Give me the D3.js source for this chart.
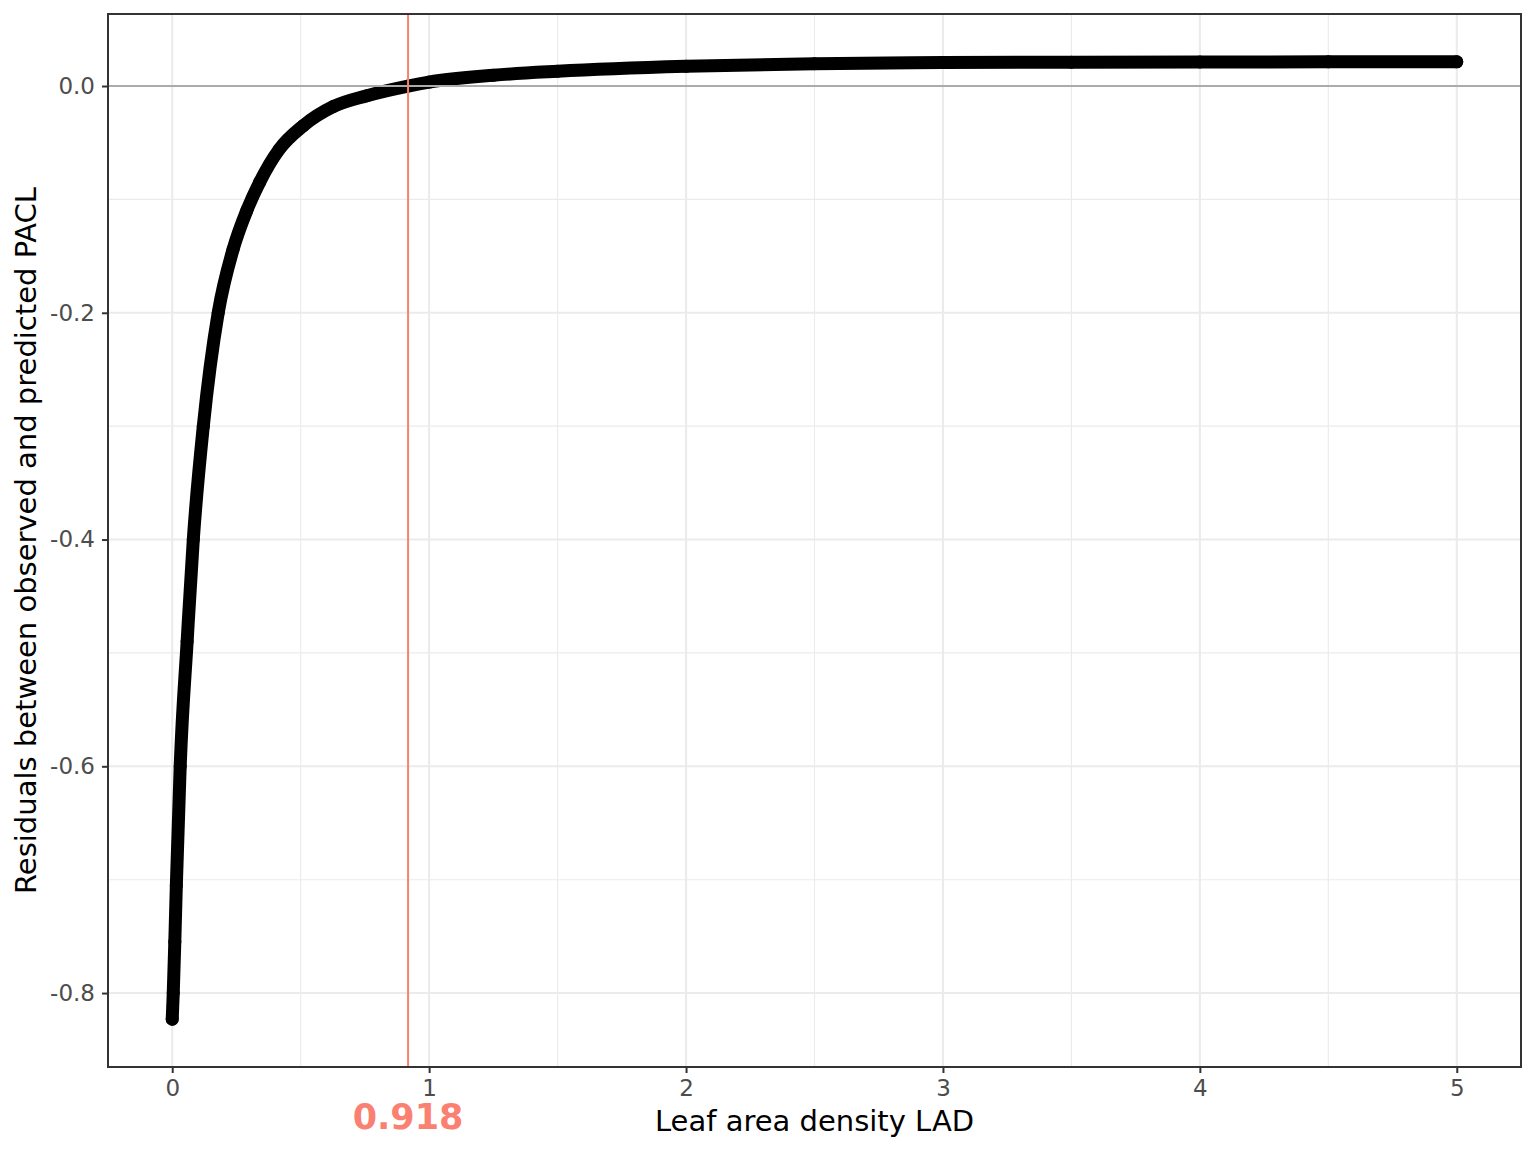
<!DOCTYPE html>
<html>
<head>
<meta charset="utf-8">
<script src="https://cdn.jsdelivr.net/npm/d3@7"></script>
<style>
  body { margin: 0; background: #fff; }
  text { font-family: "DejaVu Sans", sans-serif; }
</style>
</head>
<body>
<div class="wrapper"></div>
<script>
// values
var lad = [0.000, 0.004, 0.010, 0.016, 0.031, 0.058, 0.082, 0.121, 0.179, 0.237,
  0.290, 0.340, 0.416, 0.510, 0.628, 0.758, 0.918, 1.000, 1.250,
  1.500, 2.000, 2.500, 3.000, 3.500, 4.000, 4.500, 5.000];
var residual = [-0.823, -0.800, -0.755, -0.705, -0.600, -0.490, -0.400, -0.300, -0.200, -0.144,
  -0.110, -0.085, -0.056, -0.035, -0.018, -0.0085, 0.000, 0.0035, 0.0095,
  0.013, 0.0174, 0.0197, 0.0207, 0.0210, 0.0212, 0.0213, 0.0213];
var xTicks = [0, 1, 2, 3, 4, 5];
var yTicks = [0, -0.2, -0.4, -0.6, -0.8];
var cutoff = 0.918;

var data = lad.map(function(d, i) { return {x: d, y: residual[i]}; });

var width = 1536, height = 1152;
var margin = {top: 14, right: 15, bottom: 85, left: 108};
var svg = d3.select(".wrapper").append("svg")
  .attr("width", width)
  .attr("height", height);

var pw = width - margin.left - margin.right,
  ph = height - margin.top - margin.bottom;

var xExt = d3.extent(lad), yExt = d3.extent(residual);
var xPad = (xExt[1] - xExt[0]) * 0.05, yPad = (yExt[1] - yExt[0]) * 0.05;
var x = d3.scaleLinear().domain([xExt[0] - xPad, xExt[1] + xPad]).range([0, pw]);
var y = d3.scaleLinear().domain([yExt[0] - yPad, yExt[1] + yPad]).range([ph, 0]);

var g = svg.append("g").attr("transform", "translate(" + margin.left + "," + margin.top + ")");

// minor grid
var xMinor = [0.5, 1.5, 2.5, 3.5, 4.5];
var yMinor = [-0.1, -0.3, -0.5, -0.7];
g.selectAll(".xminor").data(xMinor).enter().append("line")
  .attr("x1", function(d) { return x(d); }).attr("x2", function(d) { return x(d); })
  .attr("y1", 0).attr("y2", ph)
  .attr("stroke", "#EBEBEB").attr("stroke-width", 1.1);
g.selectAll(".yminor").data(yMinor).enter().append("line")
  .attr("y1", function(d) { return y(d); }).attr("y2", function(d) { return y(d); })
  .attr("x1", 0).attr("x2", pw)
  .attr("stroke", "#EBEBEB").attr("stroke-width", 1.1);
// major grid
g.selectAll(".xmajor").data(xTicks).enter().append("line")
  .attr("x1", function(d) { return x(d); }).attr("x2", function(d) { return x(d); })
  .attr("y1", 0).attr("y2", ph)
  .attr("stroke", "#EBEBEB").attr("stroke-width", 2.1);
g.selectAll(".ymajor").data(yTicks).enter().append("line")
  .attr("y1", function(d) { return y(d); }).attr("y2", function(d) { return y(d); })
  .attr("x1", 0).attr("x2", pw)
  .attr("stroke", "#EBEBEB").attr("stroke-width", 2.1);

// points (dense series drawn as thick path through the read values)
var line = d3.line()
  .x(function(d) { return x(d.x); })
  .y(function(d) { return y(d.y); })
  .curve(d3.curveMonotoneX);
g.append("path")
  .datum(data)
  .attr("d", line)
  .attr("fill", "none")
  .attr("stroke", "#000")
  .attr("stroke-width", 13)
  .attr("stroke-linecap", "round")
  .attr("stroke-linejoin", "round");
g.selectAll(".pt").data(data).enter().append("circle")
  .attr("cx", function(d) { return x(d.x); })
  .attr("cy", function(d) { return y(d.y); })
  .attr("r", 6.5)
  .attr("fill", "#000");

// reference lines
g.append("line")
  .attr("x1", 0).attr("x2", pw)
  .attr("y1", y(0)).attr("y2", y(0))
  .attr("stroke", "#ABABAB").attr("stroke-width", 2);
g.append("line")
  .attr("x1", x(cutoff)).attr("x2", x(cutoff))
  .attr("y1", 0).attr("y2", ph)
  .attr("stroke", "#FA8072").attr("stroke-width", 2);

// panel border
g.append("rect")
  .attr("width", pw).attr("height", ph)
  .attr("fill", "none").attr("stroke", "#333333").attr("stroke-width", 2);

// axes
var xAxis = g.append("g")
  .attr("transform", "translate(0," + ph + ")")
  .call(d3.axisBottom(x).tickValues(xTicks).tickFormat(d3.format("d")).tickSize(6).tickPadding(7));
var yAxis = g.append("g")
  .call(d3.axisLeft(y).tickValues(yTicks).tickFormat(d3.format(".1f")).tickSize(6).tickPadding(7));
[xAxis, yAxis].forEach(function(a) {
  a.select(".domain").remove();
  a.selectAll(".tick line").attr("stroke", "#333333").attr("stroke-width", 2);
  a.selectAll(".tick text").attr("fill", "#4D4D4D").attr("font-size", 23)
    .attr("font-family", "DejaVu Sans, sans-serif");
});
yAxis.selectAll(".tick text").text(function(d) { return d3.format(".1f")(d).replace("−", "-"); });

// titles
svg.append("text")
  .attr("x", margin.left + pw / 2)
  .attr("y", 1131)
  .attr("text-anchor", "middle")
  .attr("font-size", 29)
  .attr("fill", "#000")
  .text("Leaf area density LAD");
svg.append("text")
  .attr("transform", "translate(36," + (margin.top + ph / 2) + ") rotate(-90)")
  .attr("text-anchor", "middle")
  .attr("font-size", 29)
  .attr("fill", "#000")
  .text("Residuals between observed and predicted PACL");
svg.append("text")
  .attr("x", margin.left + x(cutoff))
  .attr("y", 1129)
  .attr("text-anchor", "middle")
  .attr("font-size", 35)
  .attr("font-weight", "bold")
  .attr("fill", "#FA8072")
  .text(cutoff);
</script>
</body>
</html>
